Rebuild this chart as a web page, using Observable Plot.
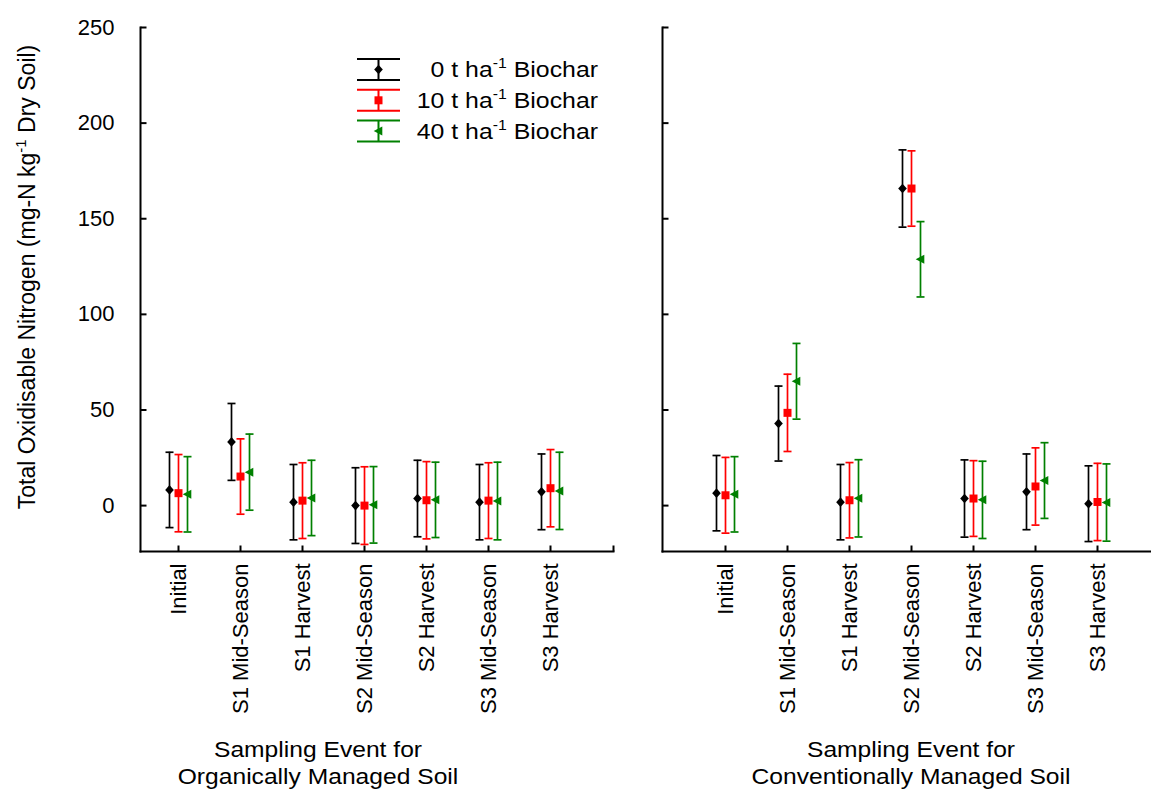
<!DOCTYPE html>
<html>
<head>
<meta charset="utf-8">
<script src="https://cdn.jsdelivr.net/npm/d3@7"></script>
<script src="https://cdn.jsdelivr.net/npm/@observablehq/plot@0.6"></script>
<style>
  html, body { margin: 0; padding: 0; background: #fff; }
  #chart { position: relative; width: 1151px; height: 789px; font-family: "Liberation Sans", Arial, sans-serif; }
  #chart svg { position: absolute; top: 0; }
</style>
</head>
<body>
<div id="chart"></div>
<script>
// Sampling events (x categories, shared by both panels)
const events = ["Initial", "S1 Mid-Season", "S1 Harvest", "S2 Mid-Season", "S2 Harvest", "S3 Mid-Season", "S3 Harvest"];

// Biochar application rates (t ha-1)
const rates = ["0", "10", "40"];

// Organically managed soil: means and error half-widths (mg-N kg-1)
const org0 = [8.2, 33.3, 1.8, 0.0, 3.7, 1.8, 7.2];
const org10 = [6.5, 15.2, 2.6, 0.0, 2.8, 2.6, 9.1];
const org40 = [5.9, 17.5, 4.0, 0.4, 3.0, 2.4, 7.7];
const org0Err = [19.7, 20.1, 19.7, 19.8, 20.0, 19.7, 19.8];
const org10Err = [20.2, 19.7, 19.8, 20.3, 20.2, 19.8, 20.2];
const org40Err = [19.7, 19.9, 19.7, 20.0, 19.7, 20.3, 20.2];

// Conventionally managed soil: means and error half-widths (mg-N kg-1)
const conv0 = [6.5, 42.9, 1.8, 165.8, 3.7, 7.2, 1.0];
const conv10 = [5.4, 48.5, 2.8, 165.8, 3.7, 10.0, 1.9];
const conv40 = [5.9, 65.0, 3.8, 128.8, 3.0, 13.1, 1.6];
const conv0Err = [19.7, 19.6, 19.7, 20.2, 20.2, 19.8, 19.8];
const conv10Err = [19.8, 20.2, 19.7, 19.7, 19.8, 20.2, 20.2];
const conv40Err = [19.7, 19.8, 20.2, 19.7, 20.2, 19.8, 20.2];

// y axis
const yDomain = [-24, 250];
const yTicks = [0, 50, 100, 150, 200, 250];

// Symbols
const tickUp = {draw(c) { c.moveTo(0, 0); c.lineTo(0, -6); }};
const tickRight = {draw(c) { c.moveTo(0, 0); c.lineTo(6, 0); }};
const cap = {draw(c) { c.moveTo(-4, 0); c.lineTo(4, 0); }};
const diamond = {draw(c) { c.moveTo(0, -4.8); c.lineTo(4.3, 0); c.lineTo(0, 4.8); c.lineTo(-4.3, 0); c.closePath(); }};
const square = {draw(c) { c.rect(-4, -4, 8, 8); }};
const leftTri = {draw(c) { c.moveTo(-4.8, 0); c.lineTo(3.8, -4.5); c.lineTo(3.8, 4.5); c.closePath(); }};

const styles = [
  {color: "#000000", symbol: diamond, dx: -9},
  {color: "#ff0000", symbol: square, dx: 0},
  {color: "#008000", symbol: leftTri, dx: 9}
];

function panel({means, errs, width, marginLeft, marginRight, range, showYLabels, endTick}) {
  const marks = [
    Plot.frame({anchor: "left", stroke: "#000", strokeWidth: 2}),
    Plot.frame({anchor: "bottom", stroke: "#000", strokeWidth: 2}),
    Plot.dot(yTicks, {y: d => d, frameAnchor: "left", symbol: tickRight, stroke: "#000", strokeWidth: 2, fill: "none"}),
    Plot.dot(events, {x: d => d, frameAnchor: "bottom", symbol: tickUp, stroke: "#000", strokeWidth: 2, fill: "none"}),
    Plot.axisX({tickSize: 0, tickPadding: 12, tickRotate: -90, fontSize: 22, label: null})
  ];
  if (endTick) marks.push(Plot.dot([0], {frameAnchor: "bottom-right", symbol: tickUp, stroke: "#000", strokeWidth: 2, fill: "none"}));
  if (showYLabels) marks.push(Plot.axisY(yTicks, {tickSize: 0, tickPadding: 26, fontSize: 22, label: null}));
  rates.forEach((rate, k) => {
    const s = styles[k];
    const rows = events.map((e, i) => ({event: e, rate, mean: means[k][i], lo: means[k][i] - errs[k][i], hi: means[k][i] + errs[k][i]}));
    marks.push(
      Plot.ruleX(rows, {x: "event", y1: "lo", y2: "hi", stroke: s.color, strokeWidth: 1.7, dx: s.dx}),
      Plot.dot(rows, {x: "event", y: "lo", symbol: cap, stroke: s.color, strokeWidth: 1.7, fill: "none", dx: s.dx}),
      Plot.dot(rows, {x: "event", y: "hi", symbol: cap, stroke: s.color, strokeWidth: 1.7, fill: "none", dx: s.dx}),
      Plot.dot(rows, {x: "event", y: "mean", symbol: s.symbol, fill: s.color, stroke: null, dx: s.dx})
    );
  });
  return Plot.plot({
    width, height: 789,
    marginTop: 27, marginBottom: 238, marginLeft, marginRight,
    x: {type: "point", domain: events, range, padding: 0},
    y: {domain: yDomain, axis: showYLabels ? undefined : null},
    style: {fontFamily: "'Liberation Sans', Arial, sans-serif", fontSize: "22px", color: "#000", background: "transparent", overflow: "visible"},
    marks
  });
}

const chart = document.getElementById("chart");

const left = panel({
  means: [org0, org10, org40], errs: [org0Err, org10Err, org40Err],
  width: 620, marginLeft: 140, marginRight: 7, range: [176, 552], showYLabels: true, endTick: true
});
left.style.left = "0px";
chart.appendChild(left);

const right = panel({
  means: [conv0, conv10, conv40], errs: [conv0Err, conv10Err, conv40Err],
  width: 531, marginLeft: 42, marginRight: 0, range: [103, 479], showYLabels: false, endTick: false
});
right.style.left = "620px";
chart.appendChild(right);

// Axis titles and legend
const ov = d3.select(chart).append("svg")
  .attr("width", 1151).attr("height", 789)
  .style("left", "0px").style("pointer-events", "none")
  .attr("font-family", "'Liberation Sans', Arial, sans-serif")
  .attr("fill", "#000");

const yl = ov.append("text")
  .attr("transform", "translate(35,277) rotate(-90)")
  .attr("text-anchor", "middle").attr("font-size", 23);
yl.append("tspan").text("Total Oxidisable Nitrogen (mg-N kg");
yl.append("tspan").attr("dy", -9).attr("font-size", 15).text("-1");
yl.append("tspan").attr("dy", 9).text(" Dry Soil)");

function title(cx, lines) {
  const g = ov.append("g").attr("transform", `translate(${cx},0) scale(1.12,1)`);
  lines.forEach((t, i) => g.append("text")
    .attr("x", 0).attr("y", 757 + 27 * i)
    .attr("text-anchor", "middle").attr("font-size", 22).text(t));
}
title(318, ["Sampling Event for", "Organically Managed Soil"]);
title(911, ["Sampling Event for", "Conventionally Managed Soil"]);

const legendY = [69.5, 100.3, 131];
rates.forEach((rate, k) => {
  const s = styles[k];
  const y = legendY[k];
  const g = ov.append("g").attr("transform", `translate(378.5,${y})`);
  g.append("path").attr("d", "M0,-10.5V10.5M-21.5,-10.5H21.5M-21.5,10.5H21.5")
    .attr("stroke", s.color).attr("stroke-width", 2).attr("fill", "none");
  g.append("path").attr("d", d3.symbol(s.symbol)()).attr("fill", s.color);
  const t = ov.append("g").attr("transform", `translate(598,${y + 7.5}) scale(1.13,1)`)
    .append("text").attr("text-anchor", "end").attr("font-size", 22);
  t.append("tspan").text(`${rate} t ha`);
  t.append("tspan").attr("dy", -9).attr("font-size", 14).text("-1");
  t.append("tspan").attr("dy", 9).text(" Biochar");
});
</script>
</body>
</html>
